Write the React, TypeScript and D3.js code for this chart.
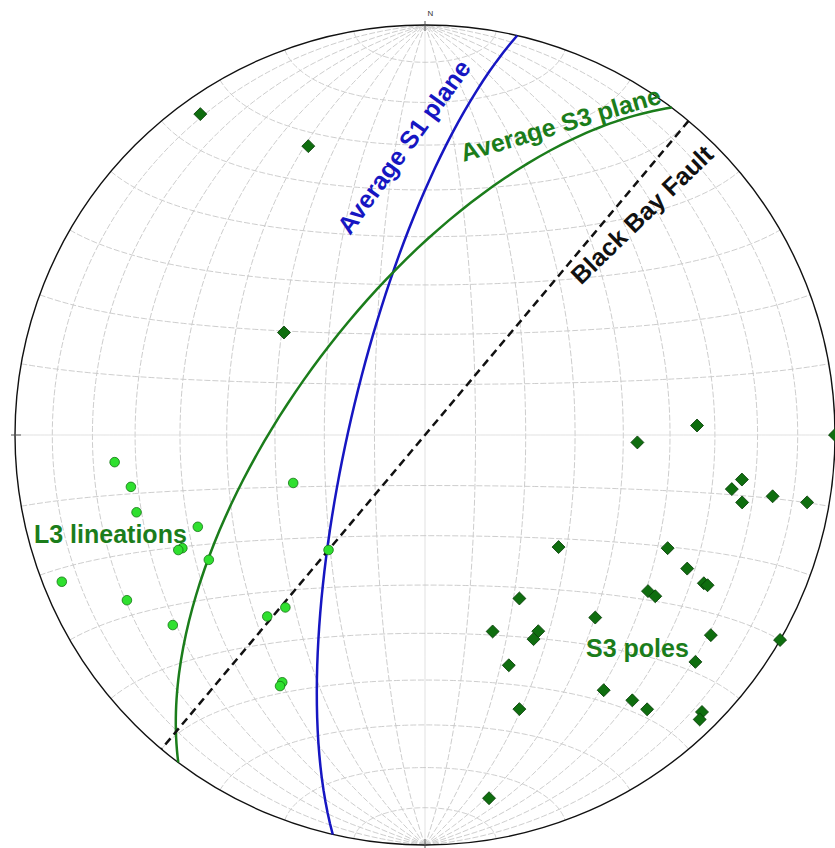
import React from "react";
import * as d3 from "d3";

// Lower-hemisphere equal-area (Schmidt) net
const WIDTH = 835;
const HEIGHT = 848;
const CX = 425;
const CY = 435;
const R = 410;

// L3 lineations: [trend, plunge]
const l3Lineations: [number, number][] = [
  [265, 25], [260, 28], [255, 28], [248, 40], [245, 35], [245, 34],
  [240, 39], [250, 62], [220, 60], [241, 18], [233, 24], [221, 41],
  [219, 45], [210, 31], [210, 30], [248, 5],
];

// Poles to S3 foliation: [trend, plunge]
const s3Poles: [number, number][] = [
  [325, 5], [338, 25], [306, 55], [88, 34], [90, 0], [92, 47], [98, 23],
  [100, 25], [102, 22], [100, 15], [100, 6], [130, 55], [115, 35], [117, 29],
  [118, 24], [118, 23], [125, 34], [125, 32], [150, 52], [137, 39], [161, 48],
  [150, 44], [152, 43], [125, 16], [120, 0], [160, 40], [130, 15], [145, 25],
  [142, 19], [141, 15], [161, 30], [135, 5], [136, 4], [170, 11],
];

// Planes as dip direction / dip
const planeNames = ["Average S1 plane", "Average S3 plane", "Black Bay Fault"];
const planeDipDirs = [283, 307, 130];
const planeDips = [75, 64, 90];

// Net graticule (10 degree interval)
const netLons = d3.range(-80, 81, 10);
const netLats = d3.range(-80, 81, 10);

const rad = Math.PI / 180;
const deg = 180 / Math.PI;

// trend/plunge -> lon/lat on a sphere viewed from the nadir
function toLonLat(trend: number, plunge: number): [number, number] {
  const t = trend * rad;
  const p = plunge * rad;
  const n = Math.cos(p) * Math.cos(t);
  const e = Math.cos(p) * Math.sin(t);
  const d = Math.sin(p);
  return [Math.atan2(e, d) * deg, Math.asin(Math.max(-1, Math.min(1, n))) * deg];
}

const projection = d3
  .geoAzimuthalEqualArea()
  .scale(R / Math.SQRT2)
  .translate([CX, CY])
  .rotate([0, 0])
  .precision(0.05);
const geoPath = d3.geoPath(projection);

const FONT = "'Liberation Sans', Arial, Helvetica, sans-serif";
const BLUE = "#1616c2";
const GREEN = "#1b7d1b";

function planePath(dd: number, dip: number) {
  return geoPath({
    type: "LineString",
    coordinates: [toLonLat(dd - 90, 0), toLonLat(dd, dip), toLonLat(dd + 90, 0)],
  } as any) as string;
}

export default function App() {
  const meridians = netLons.map((lon) => ({
    key: `m${lon}`,
    main: lon === 0,
    d: geoPath({
      type: "LineString",
      coordinates: d3.range(-90, 90.01, 5).map((lat) => [lon, lat]),
    } as any) as string,
  }));
  const parallels = netLats.map((lat) => ({
    key: `p${lat}`,
    main: lat === 0,
    d: geoPath({
      type: "LineString",
      coordinates: d3.range(-90, 90.01, 1).map((lon) => [lon, lat]),
    } as any) as string,
  }));

  const square = d3.symbol(d3.symbolSquare, 84)() as string;
  const planeStyles = [
    { stroke: BLUE, dash: undefined as string | undefined },
    { stroke: GREEN, dash: undefined as string | undefined },
    { stroke: "#111", dash: "8,5" },
  ];

  const ticks = [0, 90, 180, 270];

  return (
    <svg
      width={WIDTH}
      height={HEIGHT}
      style={{ position: "absolute", left: 0, top: 0, background: "#fff" }}
    >
      <rect width={WIDTH} height={HEIGHT} fill="#fff" />
      <g fill="none">
        {meridians.concat(parallels).map((l) => (
          <path
            key={l.key}
            d={l.d}
            stroke={l.main ? "#dcdcdc" : "#c4c4c4"}
            strokeWidth={0.85}
            strokeDasharray={l.main ? undefined : "6,2"}
          />
        ))}
      </g>
      <circle cx={CX} cy={CY} r={R} fill="none" stroke="#111" strokeWidth={1.4} />
      {ticks.map((a) => {
        const [x, y] = projection(toLonLat(a, 0)) as [number, number];
        const ux = Math.sin(a * rad);
        const uy = -Math.cos(a * rad);
        return (
          <line
            key={a}
            x1={x - ux * 6}
            y1={y - uy * 6}
            x2={x + ux * 4}
            y2={y + uy * 4}
            stroke="#555"
            strokeWidth={1}
          />
        );
      })}
      <text x={430.5} y={15.5} fontFamily={FONT} fontSize={8} fill="#333" textAnchor="middle">
        N
      </text>

      {planeNames.map((name, i) => (
        <path
          key={name}
          d={planePath(planeDipDirs[i], planeDips[i])}
          fill="none"
          stroke={planeStyles[i].stroke}
          strokeWidth={2.5}
          strokeDasharray={planeStyles[i].dash}
        />
      ))}

      {l3Lineations.map(([t, p], i) => {
        const [x, y] = projection(toLonLat(t, p)) as [number, number];
        return (
          <circle key={`l${i}`} cx={x} cy={y} r={4.8} fill="#2fe02f" stroke="#147314" strokeWidth={0.8} />
        );
      })}
      {s3Poles.map(([t, p], i) => {
        const [x, y] = projection(toLonLat(t, p)) as [number, number];
        return (
          <path
            key={`s${i}`}
            d={square}
            transform={`translate(${x},${y}) rotate(45)`}
            fill="#0f6e0f"
            stroke="#083d08"
            strokeWidth={0.8}
          />
        );
      })}

      <g fontFamily={FONT} fontWeight="bold" fontSize={25}>
        <text transform="translate(411,152) rotate(-54)" textAnchor="middle" fill={BLUE}>
          {planeNames[0]}
        </text>
        <text transform="translate(563,132.5) rotate(-16.5)" textAnchor="middle" fill={GREEN}>
          {planeNames[1]}
        </text>
        <text transform="translate(648,221) rotate(-44)" textAnchor="middle" fill="#111">
          {planeNames[2]}
        </text>
        <text x={34} y={543} fill={GREEN}>
          L3 lineations
        </text>
        <text x={586} y={657} fill={GREEN}>
          S3 poles
        </text>
      </g>
    </svg>
  );
}
